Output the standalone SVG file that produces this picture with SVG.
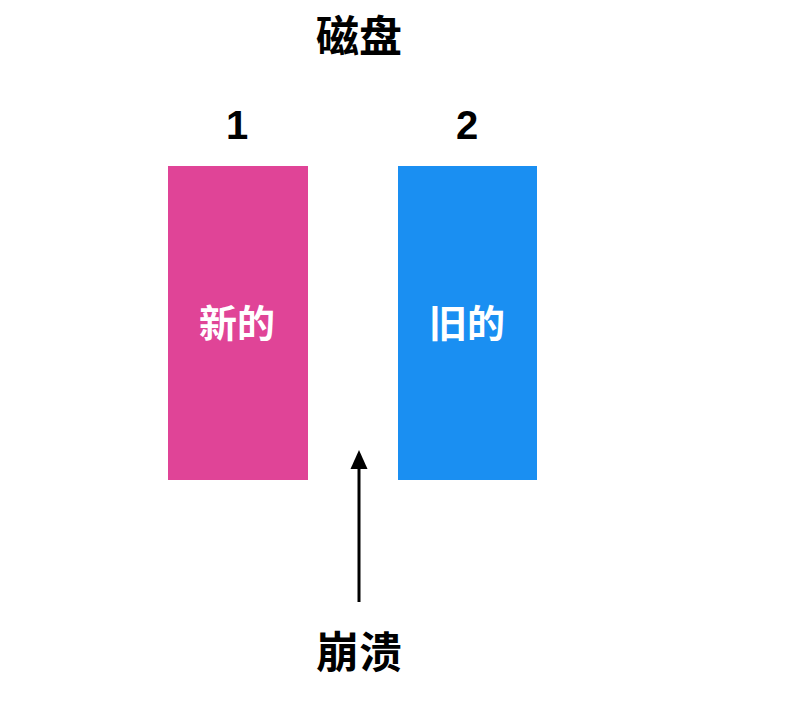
<svg xmlns="http://www.w3.org/2000/svg" width="790" height="704" viewBox="0 0 790 704">
<style>
.t{font-family:"Liberation Sans","Noto Sans CJK SC",sans-serif;font-weight:bold;text-anchor:middle;fill:#000}
.w{font-family:"Noto Sans CJK SC",sans-serif;font-weight:bold;text-anchor:middle;fill:#fff;font-size:38px}
</style>
<rect width="790" height="704" fill="#fff"/>
<text class="t" x="359" y="52" font-size="43">磁盘</text>
<g id="disk1">
<text class="t" x="237" y="139" font-size="40">1</text>
<rect x="168" y="166" width="140" height="314" fill="#E04497"/>
<text class="w" x="237" y="337">新的</text>
</g>
<g id="disk2">
<text class="t" x="467" y="139" font-size="40">2</text>
<rect x="398" y="166" width="139" height="314" fill="#1A8FF2"/>
<text class="w" x="467" y="337">旧的</text>
</g>
<g id="crash">
<text class="t" x="359" y="668" font-size="43">崩溃</text>
</g>
<g id="connectors">
<line x1="359" y1="602" x2="359" y2="468" stroke="#000" stroke-width="3"/>
<path d="M350.5,469 L359,450 L367.5,469 z" fill="#000"/>
</g>
</svg>
